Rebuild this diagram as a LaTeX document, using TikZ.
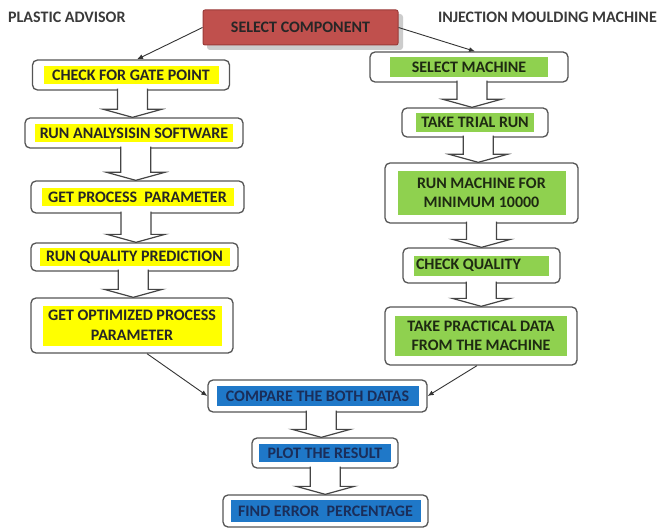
\documentclass[tikz,border=0pt]{standalone}
\usepackage{fontspec}
\setmainfont{Carlito}
\usetikzlibrary{calc,arrows.meta}
\definecolor{redfill}{HTML}{C0504D}
\definecolor{reddraw}{HTML}{9A3B39}
\definecolor{yhlc}{HTML}{FFFF00}
\definecolor{ghlc}{HTML}{8FD14F}
\definecolor{bhlc}{HTML}{1F78C8}
\definecolor{boxgray}{HTML}{555555}
\definecolor{arrgray}{HTML}{454545}
\definecolor{bluetext}{HTML}{1A2E5A}
\definecolor{greentext}{HTML}{1E2A12}
\definecolor{titlegray}{HTML}{3A3A3A}
\tikzset{
  box/.style={draw=boxgray, line width=1.3pt, rounded corners=5pt, fill=white, inner sep=0pt},
  hl/.style={inner sep=0pt, align=center, font=\bfseries\fontsize{16}{19.5}\selectfont},
  yhl/.style={hl, fill=yhlc, text=black!85},
  ghl/.style={hl, fill=ghlc, text=greentext},
  bhl/.style={hl, fill=bhlc, text=bluetext},
  barrow/.style={draw=arrgray, line width=1.2pt, fill=white, line join=miter},
  conn/.style={draw=black!80, line width=0.9pt, -{Latex[length=6pt,width=5pt]}},
  title/.style={font=\bfseries\fontsize{16}{18}\selectfont, text=titlegray, inner sep=0pt}
}
\newcommand\flowbox[6]{%
  \node[box, minimum width=#3, minimum height=#4] (#1) at (#2) {};
  \node[#5] (#1-t) at (#1) {#6};
}
\newcommand\blockarr[2]{%
  \path let \p1=(#1.south), \p2=(#2.north), \p3=($(#1.south)!0.5!(#2.north)$) in
    [barrow] (\x3-15pt,\y1+2pt) -- (\x3-15pt,\y2+8pt) -- (\x3-29pt,\y2+8pt) -- (\x3,\y2)
    -- (\x3+29pt,\y2+8pt) -- (\x3+15pt,\y2+8pt) -- (\x3+15pt,\y1+2pt);
}
\begin{document}
\begin{tikzpicture}[x=1pt,y=-1pt]
\useasboundingbox (0,0) rectangle (660,529);
\fill[white] (0,0) rectangle (660,529);

% titles
\node[title, anchor=west] (ta) at (8,17) {PLASTIC ADVISOR};
\node[title, anchor=east] (tb) at (657,17) {INJECTION MOULDING MACHINE};

% select component
\fill[black!20, rounded corners=3pt] (207,14) rectangle (403,50);
\node[draw=reddraw, line width=1pt, fill=redfill, rounded corners=2pt, minimum width=195, minimum height=35,
      inner sep=0pt, font=\bfseries\fontsize{16}{18}\selectfont, text=black!85] (sc) at (300.5,27.5) {SELECT COMPONENT};

% left column
\flowbox{a}{131,75}{197}{30}{yhl, minimum width=175, minimum height=18}{CHECK FOR GATE POINT}
\flowbox{b}{134,133}{218}{30}{yhl, minimum width=198, minimum height=18}{RUN ANALYSISIN SOFTWARE}
\flowbox{c}{137.5,197}{213}{32}{yhl, minimum width=192, minimum height=18}{GET PROCESS\ \ PARAMETER}
\flowbox{d}{134.5,257}{207}{28}{yhl, minimum width=190, minimum height=18}{RUN QUALITY PREDICTION}
\flowbox{e}{132,325.5}{202}{55}{yhl, minimum width=179, minimum height=40}{GET OPTIMIZED PROCESS\\PARAMETER}
% right column
\flowbox{f}{469,67}{198}{30}{ghl, minimum width=158, minimum height=20}{SELECT MACHINE}
\flowbox{g}{475,122.5}{146}{29}{ghl, minimum width=118, minimum height=19}{TAKE TRIAL RUN}
\flowbox{h}{481.5,193}{193}{60}{ghl, minimum width=168, minimum height=43}{RUN MACHINE FOR\\MINIMUM 10000}
\flowbox{i}{481.5,265.5}{157}{35}{ghl, minimum width=135, minimum height=20}{\makebox[135pt][l]{\hspace*{2pt}CHECK QUALITY}}
\flowbox{j}{481,336}{192}{58}{ghl, minimum width=172, minimum height=40}{TAKE PRACTICAL DATA\\FROM THE MACHINE}
% bottom
\flowbox{k}{317.5,396}{219}{32}{bhl, minimum width=202, minimum height=20}{COMPARE THE BOTH DATAS}
\flowbox{l}{325,453}{146}{30}{bhl, minimum width=132, minimum height=18}{PLOT THE RESULT}
\flowbox{m}{325.5,511}{205}{32}{bhl, minimum width=190, minimum height=22}{FIND ERROR\ \ PERCENTAGE}

% block arrows
\blockarr{a}{b}
\blockarr{b}{c}
\blockarr{c}{d}
\blockarr{d}{e}
\blockarr{f}{g}
\blockarr{g}{h}
\blockarr{h}{i}
\blockarr{i}{j}
\blockarr{k}{l}
\blockarr{l}{m}

% connectors
\draw[conn] (sc.west) -- ($(a.north)+(6,0)$);
\draw[conn] (sc.east) -- ($(f.north)+(6,0)$);
\draw[conn] ($(e.south)+(15,0)$) -- (k.west);
\draw[conn] ($(j.south)+(-4,0)$) -- (k.east);
\end{tikzpicture}
\end{document}
